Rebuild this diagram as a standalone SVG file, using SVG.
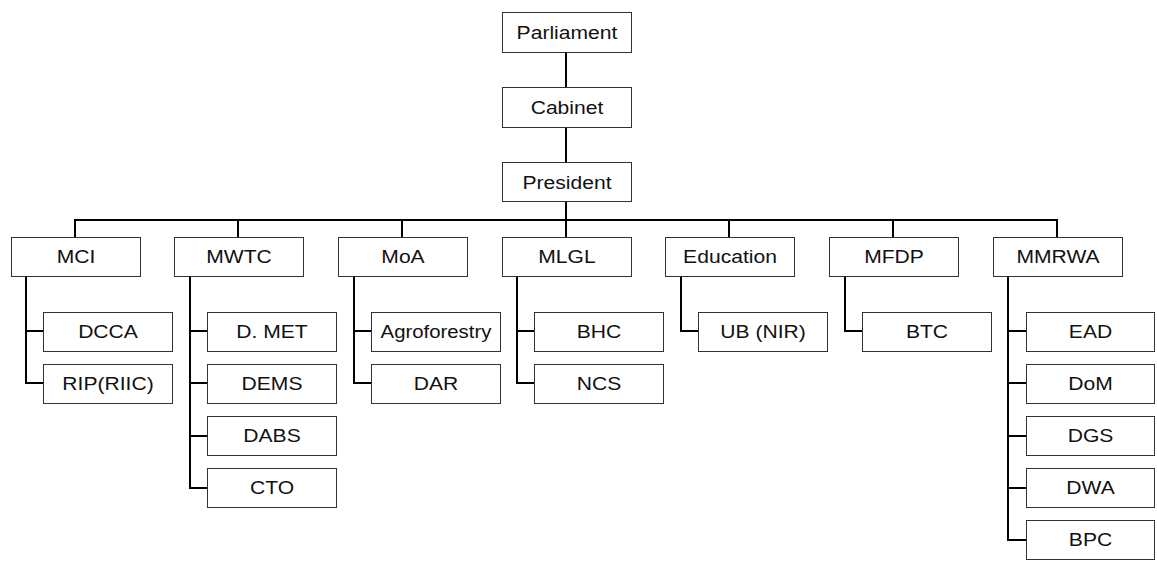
<svg xmlns="http://www.w3.org/2000/svg" width="1157" height="563" viewBox="0 0 1157 563">
<style>
.box{fill:#fff;stroke:#333;stroke-width:1}
.t{font-family:"Liberation Sans",Arial,sans-serif;font-size:18.5px;fill:#111;text-anchor:middle}
.c{fill:none;stroke:#000;stroke-width:2;stroke-linejoin:miter;stroke-linecap:butt}
</style>
<rect width="1157" height="563" fill="#fff"/>
<g id="connectors" class="c">
<path d="M566 53V88M566 128V162M566 202V220"/>
<path d="M74 220H1058"/>
<path d="M75 220V237M238 220V237M402 220V237M566 220V237M729 220V237M893 220V237M1057 220V237"/>
<path d="M26 277V383H43M26 331H43"/>
<path d="M190 277V488H207M190 331H207M190 383H207M190 436H207"/>
<path d="M354 277V383H371M354 331H371"/>
<path d="M517 277V383H534M517 331H534"/>
<path d="M681 277V331H698"/>
<path d="M845 277V331H862"/>
<path d="M1008 277V540H1026M1008 331H1026M1008 383H1026M1008 436H1026M1008 488H1026"/>
</g>
<g id="parliament"><rect class="box" x="502.5" y="12.5" width="129" height="40"/><text class="t" transform="translate(567 39.3) scale(1.14 1)">Parliament</text></g>
<g id="cabinet"><rect class="box" x="502.5" y="87.5" width="129" height="40"/><text class="t" transform="translate(567 114.3) scale(1.14 1)">Cabinet</text></g>
<g id="president"><rect class="box" x="502.5" y="162.5" width="129" height="39"/><text class="t" transform="translate(567 188.6) scale(1.14 1)">President</text></g>

<g id="mci"><rect class="box" x="11.5" y="237.5" width="129" height="39"/><text class="t" transform="translate(76 263.3) scale(1.14 1)">MCI</text></g>
<g id="mwtc"><rect class="box" x="174.5" y="237.5" width="129" height="39"/><text class="t" transform="translate(239 263.3) scale(1.14 1)">MWTC</text></g>
<g id="moa"><rect class="box" x="338.5" y="237.5" width="129" height="39"/><text class="t" transform="translate(403 263.3) scale(1.14 1)">MoA</text></g>
<g id="mlgl"><rect class="box" x="502.5" y="237.5" width="129" height="39"/><text class="t" transform="translate(567 263.3) scale(1.14 1)">MLGL</text></g>
<g id="education"><rect class="box" x="665.5" y="237.5" width="129" height="39"/><text class="t" transform="translate(730 263.3) scale(1.14 1)">Education</text></g>
<g id="mfdp"><rect class="box" x="829.5" y="237.5" width="129" height="39"/><text class="t" transform="translate(894 263.3) scale(1.14 1)">MFDP</text></g>
<g id="mmrwa"><rect class="box" x="993.5" y="237.5" width="129" height="39"/><text class="t" transform="translate(1058 263.3) scale(1.14 1)">MMRWA</text></g>

<g id="dcca"><rect class="box" x="43.5" y="312.5" width="129" height="39"/><text class="t" transform="translate(108 338.3) scale(1.14 1)">DCCA</text></g>
<g id="rip"><rect class="box" x="43.5" y="364.5" width="129" height="39"/><text class="t" transform="translate(108 390.3) scale(1.14 1)">RIP(RIIC)</text></g>

<g id="dmet"><rect class="box" x="207.5" y="312.5" width="129" height="39"/><text class="t" transform="translate(272 338.3) scale(1.14 1)">D. MET</text></g>
<g id="dems"><rect class="box" x="207.5" y="364.5" width="129" height="39"/><text class="t" transform="translate(272 390.3) scale(1.14 1)">DEMS</text></g>
<g id="dabs"><rect class="box" x="207.5" y="416.5" width="129" height="39"/><text class="t" transform="translate(272 442.3) scale(1.14 1)">DABS</text></g>
<g id="cto"><rect class="box" x="207.5" y="468.5" width="129" height="39"/><text class="t" transform="translate(272 494.3) scale(1.14 1)">CTO</text></g>

<g id="agroforestry"><rect class="box" x="371.5" y="312.5" width="129" height="39"/><text class="t" transform="translate(436 338.3) scale(1.1 1)">Agroforestry</text></g>
<g id="dar"><rect class="box" x="371.5" y="364.5" width="129" height="39"/><text class="t" transform="translate(436 390.3) scale(1.14 1)">DAR</text></g>

<g id="bhc"><rect class="box" x="534.5" y="312.5" width="129" height="39"/><text class="t" transform="translate(599 338.3) scale(1.14 1)">BHC</text></g>
<g id="ncs"><rect class="box" x="534.5" y="364.5" width="129" height="39"/><text class="t" transform="translate(599 390.3) scale(1.14 1)">NCS</text></g>

<g id="ub"><rect class="box" x="698.5" y="312.5" width="129" height="39"/><text class="t" transform="translate(763 338.3) scale(1.14 1)">UB (NIR)</text></g>

<g id="btc"><rect class="box" x="862.5" y="312.5" width="129" height="39"/><text class="t" transform="translate(927 338.3) scale(1.14 1)">BTC</text></g>

<g id="ead"><rect class="box" x="1026.5" y="312.5" width="128" height="39"/><text class="t" transform="translate(1090.5 338.3) scale(1.14 1)">EAD</text></g>
<g id="dom"><rect class="box" x="1026.5" y="364.5" width="128" height="39"/><text class="t" transform="translate(1090.5 390.3) scale(1.14 1)">DoM</text></g>
<g id="dgs"><rect class="box" x="1026.5" y="416.5" width="128" height="39"/><text class="t" transform="translate(1090.5 442.3) scale(1.14 1)">DGS</text></g>
<g id="dwa"><rect class="box" x="1026.5" y="468.5" width="128" height="39"/><text class="t" transform="translate(1090.5 494.3) scale(1.14 1)">DWA</text></g>
<g id="bpc"><rect class="box" x="1026.5" y="520.5" width="128" height="39"/><text class="t" transform="translate(1090.5 546.3) scale(1.14 1)">BPC</text></g>
</svg>
